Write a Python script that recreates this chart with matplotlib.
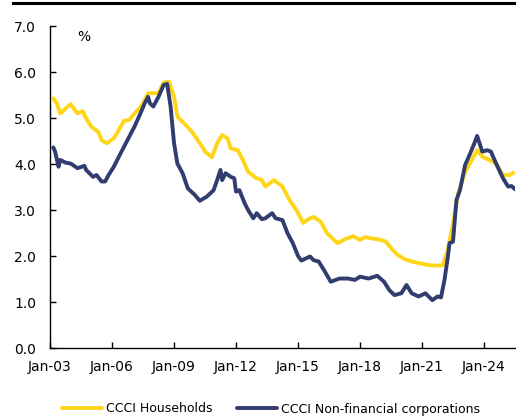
import matplotlib
matplotlib.use("Agg")
import matplotlib.pyplot as plt
import matplotlib.dates as mdates
from matplotlib.lines import Line2D
import pandas as pd

hh_dates = ["2003-03", "2003-05", "2003-07", "2003-09", "2004-01", "2004-05", "2004-08", "2004-10",
            "2005-01", "2005-05", "2005-07", "2005-10", "2006-02", "2006-05", "2006-08", "2006-11",
            "2007-02", "2007-06", "2007-10", "2008-01", "2008-04", "2008-07", "2008-10", "2009-01",
            "2009-03", "2009-07", "2009-11", "2010-02", "2010-06", "2010-07", "2010-11", "2011-02",
            "2011-05", "2011-08", "2011-10", "2012-02", "2012-05", "2012-08", "2013-01", "2013-04",
            "2013-06", "2013-11", "2014-04", "2014-08", "2014-12", "2015-04", "2015-07", "2015-10",
            "2016-02", "2016-06", "2016-09", "2016-12", "2017-04", "2017-09", "2018-01", "2018-04",
            "2018-08", "2018-12", "2019-04", "2019-08", "2019-11", "2020-03", "2020-07", "2020-12",
            "2021-05", "2021-11", "2022-01", "2022-04", "2022-07", "2022-10", "2023-02", "2023-06",
            "2023-09", "2023-12", "2024-04", "2024-08", "2024-12", "2025-04", "2025-06"]
hh_values = [5.43, 5.32, 5.10, 5.17, 5.30, 5.10, 5.15, 4.99,
             4.81, 4.70, 4.52, 4.45, 4.56, 4.74, 4.94, 4.96,
             5.10, 5.25, 5.54, 5.54, 5.54, 5.77, 5.79, 5.46,
             5.03, 4.88, 4.72, 4.56, 4.34, 4.27, 4.15, 4.45,
             4.63, 4.56, 4.34, 4.30, 4.09, 3.83, 3.69, 3.65,
             3.51, 3.65, 3.51, 3.22, 3.00, 2.72, 2.80, 2.85,
             2.75, 2.49, 2.38, 2.28, 2.36, 2.43, 2.35, 2.41,
             2.38, 2.36, 2.31, 2.13, 2.02, 1.93, 1.88, 1.84,
             1.80, 1.79, 1.80, 2.13, 2.70, 3.36, 3.83, 4.09,
             4.30, 4.16, 4.09, 4.01, 3.76, 3.76, 3.81]

nfc_dates = ["2003-03", "2003-04", "2003-06", "2003-07", "2003-10", "2004-01", "2004-05", "2004-09",
             "2004-10", "2005-02", "2005-04", "2005-07", "2005-09", "2005-11", "2006-02", "2006-06",
             "2006-10", "2007-02", "2007-06", "2007-08", "2007-10", "2007-11", "2008-01", "2008-04",
             "2008-07", "2008-09", "2008-11", "2009-01", "2009-03", "2009-06", "2009-09", "2010-01",
             "2010-04", "2010-08", "2010-12", "2011-02", "2011-04", "2011-05", "2011-07", "2011-10",
             "2011-12", "2012-01", "2012-03", "2012-06", "2012-08", "2012-11", "2013-01", "2013-04",
             "2013-06", "2013-10", "2013-12", "2014-04", "2014-07", "2014-10", "2015-01", "2015-03",
             "2015-08", "2015-10", "2016-01", "2016-04", "2016-08", "2017-01", "2017-06", "2017-10",
             "2018-01", "2018-06", "2018-11", "2019-03", "2019-06", "2019-09", "2020-01", "2020-04",
             "2020-07", "2020-11", "2021-03", "2021-07", "2021-10", "2021-12", "2022-02", "2022-04",
             "2022-05", "2022-07", "2022-09", "2022-11", "2023-02", "2023-05", "2023-07", "2023-09",
             "2023-12", "2024-03", "2024-05", "2024-08", "2024-12", "2025-03", "2025-05", "2025-07"]
nfc_values = [4.36, 4.27, 3.94, 4.09, 4.03, 4.01, 3.91, 3.96,
              3.87, 3.72, 3.76, 3.62, 3.62, 3.76, 3.94, 4.23,
              4.52, 4.81, 5.14, 5.32, 5.46, 5.32, 5.25, 5.46,
              5.72, 5.74, 5.25, 4.45, 4.01, 3.80, 3.47, 3.33,
              3.20, 3.29, 3.43, 3.65, 3.87, 3.65, 3.80, 3.72,
              3.69, 3.40, 3.43, 3.15, 3.00, 2.82, 2.93, 2.80,
              2.82, 2.93, 2.82, 2.78, 2.49, 2.28, 2.00, 1.90,
              1.99, 1.91, 1.88, 1.70, 1.44, 1.51, 1.51, 1.48,
              1.55, 1.51, 1.57, 1.44, 1.26, 1.15, 1.19, 1.37,
              1.19, 1.12, 1.19, 1.04, 1.12, 1.10, 1.48, 1.98,
              2.28, 2.31, 3.22, 3.43, 3.98, 4.23, 4.41, 4.61,
              4.27, 4.30, 4.27, 4.01, 3.69, 3.51, 3.52, 3.45]

series_labels = ["CCCI Households", "CCCI Non-financial corporations"]
x_tick_years = [2003, 2006, 2009, 2012, 2015, 2018, 2021, 2024]
y_ticks = [0.0, 1.0, 2.0, 3.0, 4.0, 5.0, 6.0, 7.0]
unit_label = "%"

YELLOW = "#FFD617"
NAVY = "#313C6F"

plt.rcParams["font.family"] = ["DejaVu Sans"]

fig = plt.figure(figsize=(5.16, 4.16), dpi=100)
ax = fig.add_axes([50 / 516, 1 - 348 / 416, 465 / 516, 322 / 416])

ax.plot(pd.to_datetime(hh_dates), hh_values, color=YELLOW, lw=2.8,
        label=series_labels[0], solid_joinstyle="round", solid_capstyle="round")
ax.plot(pd.to_datetime(nfc_dates), nfc_values, color=NAVY, lw=2.8,
        label=series_labels[1], solid_joinstyle="round", solid_capstyle="round")

ax.set_xlim(pd.Timestamp("2003-01-01"), pd.Timestamp("2025-07-01"))
ax.set_ylim(0, 7)
ax.set_yticks(y_ticks)
ax.set_yticklabels([f"{v:.1f}" for v in y_ticks])
ax.set_xticks([pd.Timestamp(f"{y}-01-01") for y in x_tick_years])
ax.xaxis.set_major_formatter(mdates.DateFormatter("%b-%y"))

for s in ["top", "right"]:
    ax.spines[s].set_visible(False)
for s in ["left", "bottom"]:
    ax.spines[s].set_linewidth(1.0)
    ax.spines[s].set_color("black")

ax.tick_params(axis="both", direction="in", length=4, width=1.0, labelsize=10,
               colors="black")
ax.tick_params(axis="y", pad=10)
ax.tick_params(axis="x", pad=9)

ax.text(0.073, 0.965, unit_label, transform=ax.transAxes, fontsize=10,
        ha="center", va="center")

fig.legend(loc="center", bbox_to_anchor=(0.525, 1 - 409 / 416), ncol=2, frameon=False,
           fontsize=9, handlelength=3.2, handletextpad=0.35, columnspacing=1.9,
           borderaxespad=0)

fig.add_artist(Line2D([13 / 516, 1.0], [1 - 3 / 416, 1 - 3 / 416],
                      transform=fig.transFigure, color="black", lw=2.2))

fig.savefig("out.png", dpi=100)
